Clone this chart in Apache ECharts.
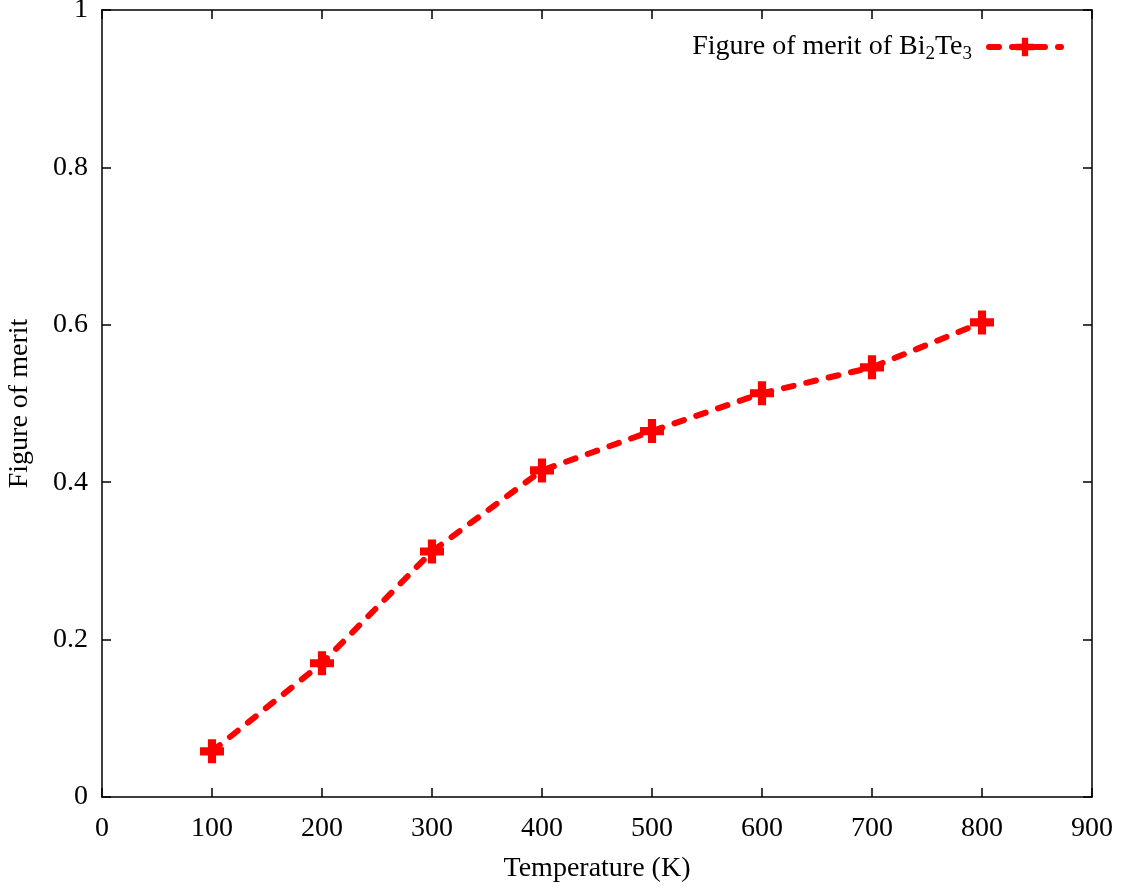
<!DOCTYPE html>
<html>
<head>
<meta charset="utf-8">
<script src="https://cdn.jsdelivr.net/npm/echarts@6/dist/echarts.min.js"></script>
<style>
  html, body { margin: 0; padding: 0; background: #fff; }
  #chart { width: 1127px; height: 890px; }
</style>
</head>
<body>
<div id="chart"></div>
<script>
// Temperatures (K) and thermoelectric figure of merit ZT
const temperatures = [100, 200, 300, 400, 500, 600, 700, 800];
const figureOfMerit = [0.058, 0.170, 0.312, 0.415, 0.465, 0.513, 0.546, 0.603];
const seriesName = 'Bi2Te3';

const FONT = '"Liberation Serif", "Times New Roman", serif';
const FS = 28;
const plusPath = 'path://M0.33,0 H0.67 V0.33 H1 V0.67 H0.67 V1 H0.33 V0.67 H0 V0.33 H0.33 Z';

const chart = echarts.init(document.getElementById('chart'));

const tick = () => ({ show: true, inside: true, length: 9, lineStyle: { color: '#000', width: 1.5 } });
const line = () => ({ show: true, onZero: false, lineStyle: { color: '#000', width: 1.5 } });

chart.setOption({
  animation: false,
  backgroundColor: '#fff',
  grid: { left: 102, right: 35, top: 10, bottom: 93, outerBoundsMode: 'none', containLabel: false },
  legend: {
    right: 58, top: 28,
    align: 'right',
    itemWidth: 72, itemHeight: 23, itemGap: 8,
    data: [seriesName],
    lineStyle: { width: 6, type: [10, 13], cap: 'round', color: '#ff0000' },
    formatter: () => '{t|Figure of merit of Bi}{s|2}{t|Te}{e|3}',
    textStyle: {
      fontFamily: FONT, color: '#000',
      rich: {
        t: { fontFamily: FONT, fontSize: FS, color: '#000' },
        s: { fontFamily: FONT, fontSize: 19, color: '#000', padding: [14, 0, 0, 0] },
        e: { fontFamily: FONT, fontSize: 19, color: '#000', padding: [14, 12, 0, 0] }
      }
    }
  },
  xAxis: [{
    type: 'value', min: 0, max: 900, interval: 100, position: 'bottom',
    name: 'Temperature (K)', nameLocation: 'middle', nameGap: 58,
    nameTextStyle: { fontFamily: FONT, fontSize: FS, color: '#000' },
    axisLine: line(),
    axisTick: tick(),
    axisLabel: { fontFamily: FONT, fontSize: FS, color: '#000', margin: 18 },
    splitLine: { show: false }
  }, {
    type: 'value', min: 0, max: 900, interval: 100, position: 'top',
    axisLine: line(), axisTick: tick(), axisLabel: { show: false }, splitLine: { show: false }
  }],
  yAxis: [{
    type: 'value', min: 0, max: 1, interval: 0.2, position: 'left',
    name: 'Figure of merit', nameLocation: 'middle', nameGap: 68,
    nameTextStyle: { fontFamily: FONT, fontSize: FS, color: '#000' },
    axisLine: line(),
    axisTick: tick(),
    axisLabel: { fontFamily: FONT, fontSize: FS, color: '#000', margin: 14, formatter: v => String(+v.toFixed(1)) },
    splitLine: { show: false }
  }, {
    type: 'value', min: 0, max: 1, interval: 0.2, position: 'right',
    axisLine: line(), axisTick: tick(), axisLabel: { show: false }, splitLine: { show: false }
  }],
  series: [{
    name: seriesName,
    type: 'line',
    data: temperatures.map((t, i) => [t, figureOfMerit[i]]),
    symbol: plusPath,
    symbolSize: 24,
    itemStyle: { color: '#ff0000' },
    lineStyle: { color: '#ff0000', width: 6, type: [10, 13], cap: 'round' }
  }]
});
</script>
</body>
</html>
